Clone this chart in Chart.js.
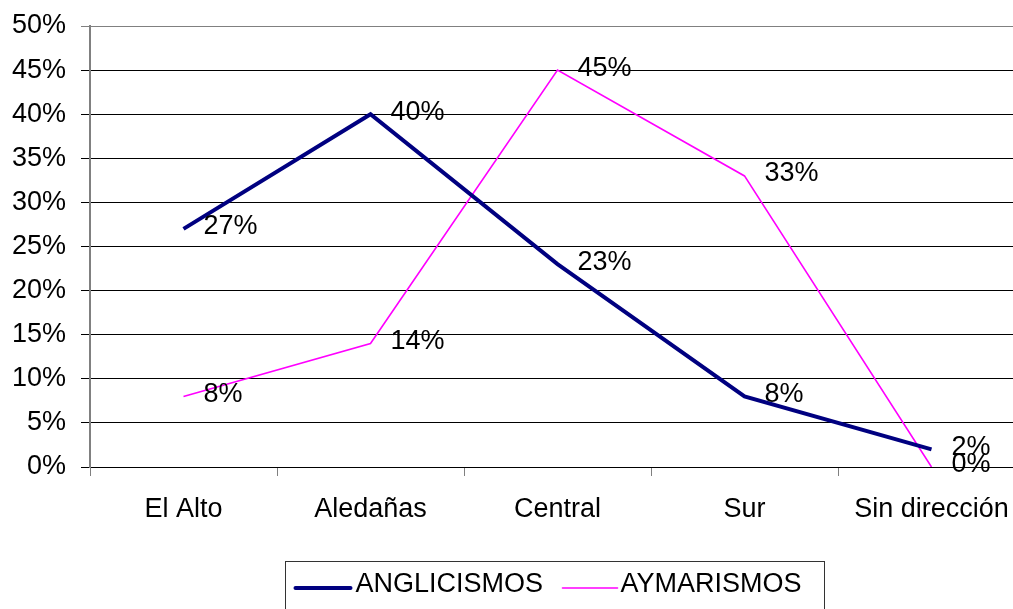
<!DOCTYPE html>
<html lang="es">
<head>
<meta charset="utf-8">
<title>Anglicismos y aymarismos por zona</title>
<script src="https://cdn.jsdelivr.net/npm/chart.js@4/dist/chart.umd.min.js"></script>
<style>
  html, body { margin: 0; padding: 0; background: #fff; overflow: hidden; }
  #wrap { width: 1040px; height: 609px; }
</style>
</head>
<body>
<div id="wrap"><canvas id="zonaChart" width="1040" height="609"></canvas></div>
<script>
/* global document, Chart */

// zonas
const zonas = ['El Alto', 'Aledañas', 'Central', 'Sur', 'Sin dirección'];

// porcentajes por zona
const anglicismos = [27, 40, 23, 8, 2];
const aymarismos = [8, 14, 45, 33, 0];

// eje vertical
const yTicks = [0, 5, 10, 15, 20, 25, 30, 35, 40, 45, 50];

const FONT = '"Liberation Sans", Arial, sans-serif';
const FONT_SIZE = 27;

// etiquetas de valor al lado de cada punto
const valueLabels = {
  id: 'valueLabels',
  afterDatasetsDraw(chart) {
    const ctx = chart.ctx;
    ctx.save();
    ctx.font = FONT_SIZE + 'px ' + FONT;
    ctx.fillStyle = '#000';
    ctx.textAlign = 'left';
    ctx.textBaseline = 'middle';
    chart.data.datasets.forEach(function (ds, i) {
      chart.getDatasetMeta(i).data.forEach(function (pt, j) {
        ctx.fillText(ds.data[j] + '%', pt.x + 20, pt.y - 2);
      });
    });
    ctx.restore();
  },
};

// leyenda con recuadro debajo del gráfico
const boxLegend = {
  id: 'boxLegend',
  afterDraw(chart) {
    const ctx = chart.ctx;
    const area = chart.chartArea;
    const left = area.left + 195.5;
    const top = 561.5;
    // posición de cada muestra de línea y su texto dentro del recuadro
    const slots = [
      { line: 10, text: 70 },
      { line: 277, text: 335 },
    ];
    ctx.save();
    ctx.font = FONT_SIZE + 'px ' + FONT;

    ctx.strokeStyle = '#333';
    ctx.lineWidth = 1;
    ctx.strokeRect(left, top, 539, 60);

    chart.data.datasets.forEach(function (d, i) {
      const s = slots[i];
      ctx.beginPath();
      ctx.strokeStyle = d.borderColor;
      ctx.lineWidth = d.borderWidth;
      ctx.lineCap = 'round';
      ctx.moveTo(left + s.line, 588);
      ctx.lineTo(left + s.line + 55, 588);
      ctx.stroke();
      ctx.fillStyle = '#000';
      ctx.textAlign = 'left';
      ctx.textBaseline = 'middle';
      ctx.fillText(d.label, left + s.text, 585);
    });
    ctx.restore();
  },
};

document.addEventListener('DOMContentLoaded', function () {
  const ctx = document.getElementById('zonaChart').getContext('2d');

  new Chart(ctx, {
    type: 'line',
    data: {
      labels: zonas,
      datasets: [
        {
          label: 'ANGLICISMOS',
          data: anglicismos,
          borderColor: '#000080',
          borderWidth: 4,
          pointRadius: 0,
          tension: 0,
        },
        {
          label: 'AYMARISMOS',
          data: aymarismos,
          borderColor: '#ff00ff',
          borderWidth: 1.6,
          pointRadius: 0,
          tension: 0,
        },
      ],
    },
    options: {
      responsive: false,
      animation: false,
      layout: { padding: { top: 26, right: 15, left: 0, bottom: 0 } },
      plugins: {
        legend: { display: false },
        tooltip: { enabled: false },
      },
      scales: {
        x: {
          offset: true,
          grid: {
            offset: true,
            drawOnChartArea: false,
            drawTicks: true,
            tickLength: 9,
            color: '#808080',
          },
          border: { color: '#000', width: 1 },
          ticks: {
            color: '#000',
            padding: 17,
            font: { family: FONT, size: FONT_SIZE },
            maxRotation: 0,
            autoSkip: false,
          },
          afterFit(scale) { scale.height = 142; },
        },
        y: {
          min: 0,
          max: 50,
          afterBuildTicks(scale) {
            scale.ticks = yTicks.map(function (v) { return { value: v }; });
          },
          grid: {
            color(c) { return c.tick && c.tick.value === 50 ? '#808080' : '#000'; },
            lineWidth: 1,
            tickLength: 9,
          },
          border: { color: '#808080', width: 2 },
          ticks: {
            color: '#000',
            padding: 15,
            font: { family: FONT, size: FONT_SIZE },
            callback(v) { return v + '%'; },
          },
          afterFit(scale) {
            scale.width = 90;
            scale.paddingTop = 0;
            scale.paddingBottom = 0;
          },
        },
      },
    },
    plugins: [valueLabels, boxLegend],
  });
});
</script>
</body>
</html>
